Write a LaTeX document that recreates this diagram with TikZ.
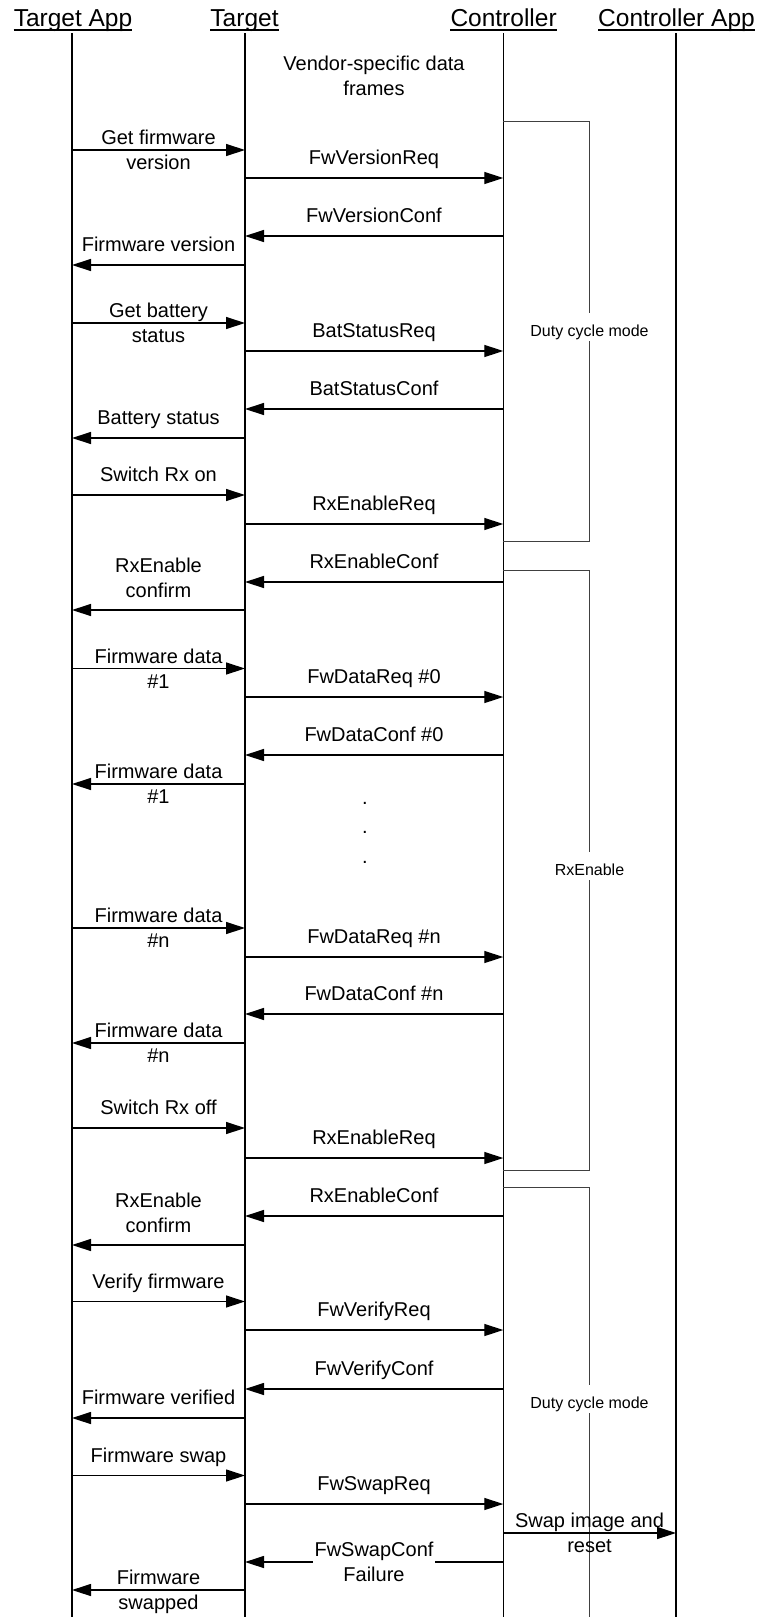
\documentclass[tikz,border=0pt]{standalone}
\usepackage{fontspec}
\setmainfont{Liberation Sans}
\usetikzlibrary{arrows.meta}
\tikzset{
  life/.style={line width=1.4pt, black},
  msg/.style={line width=1.3pt, -{Triangle[length=19pt,width=12pt]}},
  lab/.style={font=\fontsize{20}{24}\selectfont, anchor=base, inner sep=0pt},
  head/.style={font=\fontsize{24.5}{28}\selectfont, anchor=base, inner sep=0pt},
  uline/.style={line width=1.3pt},
  boxline/.style={line width=1pt, black!75},
  boxlab/.style={font=\fontsize{16}{19}\selectfont, anchor=base, fill=white, inner xsep=1pt, inner ysep=0pt, text height=24pt, text depth=4pt},
}
\newcommand\arr[3]{\draw[msg] (#1 |- 0,#3) -- (#2 |- 0,#3);}
\newcommand\lone[4]{\node[lab] (#1) at (#2,#3-13.5) {#4};}
\newcommand\ltwo[5]{\node[lab] (#1a) at (#2,#3-5.5) {#4};\node[lab] (#1b) at (#2,#3+19.5) {#5};}
\newcommand\labove[5]{\node[lab] (#1a) at (#2,#3-38) {#4};\node[lab] (#1b) at (#2,#3-13) {#5};}
\begin{document}
\begin{tikzpicture}[x=1pt,y=-1pt]
\useasboundingbox (0,0) rectangle (757,1617);
% lifelines
\coordinate (TA) at (72,33);
\coordinate (T) at (245,33);
\coordinate (C) at (503.3,33);
\coordinate (CA) at (676,33);
\draw[life] (TA) -- (TA |- 0,1617);
\draw[life] (T) -- (T |- 0,1617);
\draw[life] (C) -- (C |- 0,1617);
\draw[life] (CA) -- (CA |- 0,1617);
% headers
\node[head] (hTA) at (73,26) {Target App};
\node[head] (hT) at (244.5,26) {Target};
\node[head] (hC) at (503.6,26) {Controller};
\node[head] (hCA) at (676.5,26) {Controller App};
\foreach \h in {hTA,hT,hC,hCA}
  \draw[uline] ([yshift=-4pt]\h.base west) -- ([yshift=-4pt]\h.base east);
% boxes
\draw[boxline] (C |- 0,121) -- (589.5,121) -- (589.5,541) -- (C |- 0,541);
\node[boxlab] (b1) at (589.5,336.75) {Duty cycle mode};
\draw[boxline] (C |- 0,570.7) -- (589.5,570.7) -- (589.5,1170) -- (C |- 0,1170);
\node[boxlab] (b2) at (589.5,875.5) {RxEnable};
\draw[boxline] (C |- 0,1187) -- (589.5,1187) -- (589.5,1620);
\node[boxlab] (b3) at (589.5,1408.5) {Duty cycle mode};
% header note
\node[lab] (v1) at (374,70.5) {Vendor-specific data};
\node[lab] (v2) at (374,95) {frames};
% messages
\def\la{158.5}\def\lb{374}\def\lc{589.5}
\arr{TA}{T}{150}\ltwo{m1}{\la}{150}{Get firmware}{version}
\arr{T}{C}{178}\lone{m2}{\lb}{178}{FwVersionReq}
\arr{C}{T}{236}\lone{m3}{\lb}{236}{FwVersionConf}
\arr{T}{TA}{265}\lone{m4}{\la}{265}{Firmware version}
\arr{TA}{T}{323}\ltwo{m5}{\la}{323}{Get battery}{status}
\arr{T}{C}{351}\lone{m6}{\lb}{351}{BatStatusReq}
\arr{C}{T}{409}\lone{m7}{\lb}{409}{BatStatusConf}
\arr{T}{TA}{438}\lone{m8}{\la}{438}{Battery status}
\arr{TA}{T}{495}\lone{m9}{\la}{495}{Switch Rx on}
\arr{T}{C}{524}\lone{m10}{\lb}{524}{RxEnableReq}
\arr{C}{T}{582}\lone{m11}{\lb}{582}{RxEnableConf}
\arr{T}{TA}{610}\labove{m12}{\la}{610}{RxEnable}{confirm}
\arr{TA}{T}{668.5}\ltwo{m13}{\la}{668.5}{Firmware data}{\#1}
\arr{T}{C}{697}\lone{m14}{\lb}{697}{FwDataReq \#0}
\arr{C}{T}{755}\lone{m15}{\lb}{755}{FwDataConf \#0}
\arr{T}{TA}{784}\ltwo{m16}{\la}{784}{Firmware data}{\#1}
\node[lab] (d1) at (365,804.5) {.};
\node[lab] (d2) at (365,833.5) {.};
\node[lab] (d3) at (365,863.5) {.};
\arr{TA}{T}{928}\ltwo{m17}{\la}{928}{Firmware data}{\#n}
\arr{T}{C}{957}\lone{m18}{\lb}{957}{FwDataReq \#n}
\arr{C}{T}{1014}\lone{m19}{\lb}{1014}{FwDataConf \#n}
\arr{T}{TA}{1043}\ltwo{m20}{\la}{1043}{Firmware data}{\#n}
\arr{TA}{T}{1128}\lone{m21}{\la}{1128}{Switch Rx off}
\arr{T}{C}{1158}\lone{m22}{\lb}{1158}{RxEnableReq}
\arr{C}{T}{1216}\lone{m23}{\lb}{1216}{RxEnableConf}
\arr{T}{TA}{1245}\labove{m24}{\la}{1245}{RxEnable}{confirm}
\arr{TA}{T}{1301.5}\lone{m25}{\la}{1301.5}{Verify firmware}
\arr{T}{C}{1330}\lone{m26}{\lb}{1330}{FwVerifyReq}
\arr{C}{T}{1389}\lone{m27}{\lb}{1389}{FwVerifyConf}
\arr{T}{TA}{1418}\lone{m28}{\la}{1418}{Firmware verified}
\arr{TA}{T}{1475.5}\lone{m29}{\la}{1475.5}{Firmware swap}
\arr{T}{C}{1504}\lone{m30}{\lb}{1504}{FwSwapReq}
\arr{C}{CA}{1533}\ltwo{m31}{\lc}{1533}{Swap image and}{reset}
\arr{C}{T}{1562}
\node[lab,fill=white,inner xsep=2pt,text depth=8pt] (m32a) at (\lb,1556.5) {FwSwapConf};
\node[lab] (m32b) at (\lb,1581.5) {Failure};
\arr{T}{TA}{1590}\ltwo{m33}{\la}{1590}{Firmware}{swapped}
\end{tikzpicture}
\end{document}
